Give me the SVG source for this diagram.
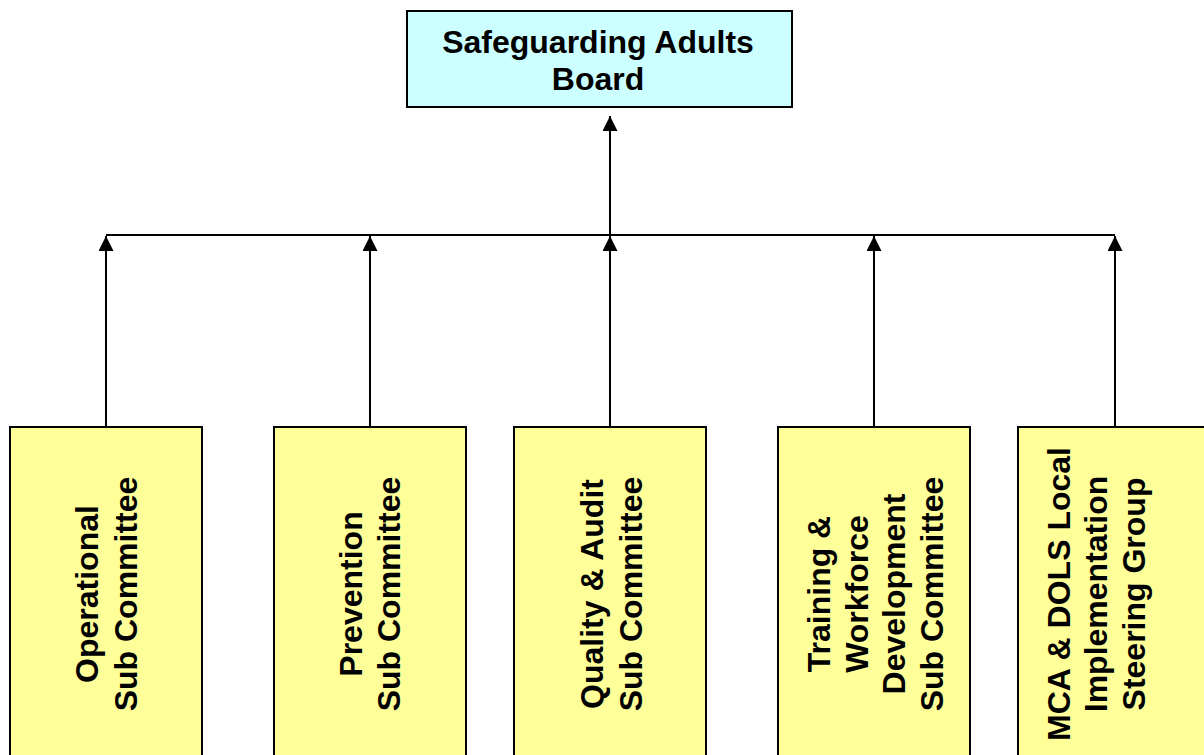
<svg xmlns="http://www.w3.org/2000/svg" width="1204" height="755" viewBox="0 0 1204 755">
<style>
.box{stroke:#000;stroke-width:2}
.top{fill:#CCFFFF}
.sub{fill:#FFFF99}
.t{font-family:"Liberation Sans",Arial,sans-serif;font-weight:bold;font-size:32px;fill:#000;text-anchor:middle}
.c{stroke:#000;stroke-width:2;fill:none}
</style>
<defs>
<marker id="ah" markerUnits="userSpaceOnUse" viewBox="0 0 15 15" markerWidth="15" markerHeight="15" refX="15" refY="7.5" orient="auto">
<path d="M0,0 L15,7.5 L0,15 z" fill="#000"/>
</marker>
</defs>
<rect width="1204" height="755" fill="#fff"/>
<g id="connectors">
<path class="c" d="M610,235 L610,116" marker-end="url(#ah)"/>
<path class="c" d="M106,235 L1115,235"/>
<path class="c" d="M106,427 L106,236" marker-end="url(#ah)"/>
<path class="c" d="M370,427 L370,236" marker-end="url(#ah)"/>
<path class="c" d="M610,427 L610,236" marker-end="url(#ah)"/>
<path class="c" d="M874,427 L874,236" marker-end="url(#ah)"/>
<path class="c" d="M1115,427 L1115,236" marker-end="url(#ah)"/>
</g>
<g id="board">
<rect class="box top" x="407" y="11" width="385" height="96"/>
<text class="t"><tspan x="598" y="53">Safeguarding Adults</tspan><tspan x="598" y="90">Board</tspan></text>
</g>
<g id="operational">
<rect class="box sub" x="10" y="427" width="192" height="340"/>
<text class="t" transform="translate(0,594) rotate(-90)"><tspan x="0" y="98">Operational</tspan><tspan x="0" y="137">Sub Committee</tspan></text>
</g>
<g id="prevention">
<rect class="box sub" x="274" y="427" width="192" height="340"/>
<text class="t" transform="translate(0,594) rotate(-90)"><tspan x="0" y="362">Prevention</tspan><tspan x="0" y="400">Sub Committee</tspan></text>
</g>
<g id="quality">
<rect class="box sub" x="514" y="427" width="192" height="340"/>
<text class="t" transform="translate(0,594) rotate(-90)"><tspan x="0" y="603">Quality &amp; Audit</tspan><tspan x="0" y="642">Sub Committee</tspan></text>
</g>
<g id="training">
<rect class="box sub" x="778" y="427" width="192" height="340"/>
<text class="t" transform="translate(0,594) rotate(-90)"><tspan x="0" y="830">Training &amp;</tspan><tspan x="0" y="868">Workforce</tspan><tspan x="0" y="905">Development</tspan><tspan x="0" y="943">Sub Committee</tspan></text>
</g>
<g id="mca">
<rect class="box sub" x="1018" y="427" width="192" height="340"/>
<text class="t" transform="translate(0,594) rotate(-90)"><tspan x="0" y="1070">MCA &amp; DOLS Local</tspan><tspan x="0" y="1107">Implementation</tspan><tspan x="0" y="1145">Steering Group</tspan></text>
</g>
</svg>
